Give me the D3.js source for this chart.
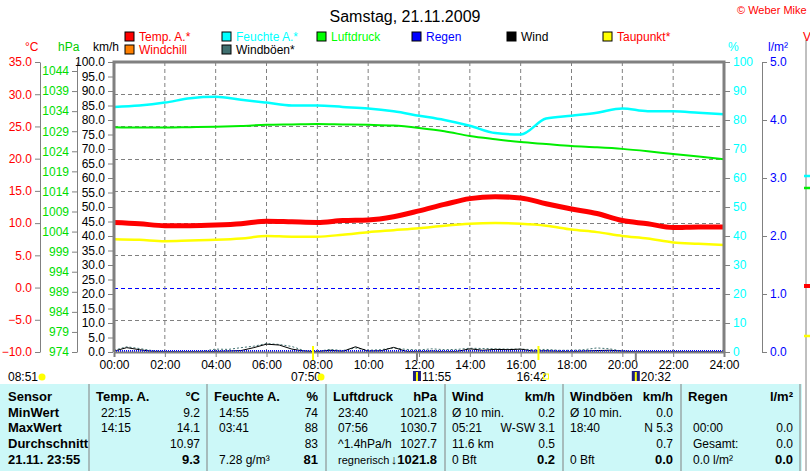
<!DOCTYPE html>
<html>
<head>
<meta charset="utf-8">
<script src="https://d3js.org/d3.v7.min.js"></script>
<style>
  body { margin:0; background:#fff; }
  text { font-family: "Liberation Sans Narrow", "Arial Narrow", "Liberation Sans", Arial, sans-serif; font-size:12px; }
</style>
</head>
<body>
<svg id="chart" width="810" height="471"></svg>
<script>
// hourly values 00:00 .. 24:00
const hours = d3.range(0, 25);
const tempA = [10.1,9.9,9.6,9.6,9.7,9.9,10.3,10.2,10.1,10.4,10.5,11.0,11.9,12.9,13.8,14.1,13.9,13.0,12.2,11.5,10.4,9.9,9.3,9.4,9.4];
const dewPoint = [7.5,7.4,7.2,7.3,7.4,7.6,8.0,7.9,7.9,8.2,8.6,8.9,9.2,9.6,9.9,10.0,9.9,9.6,9.0,8.6,8.0,7.6,7.0,6.8,6.6];
const humidity = [84.5,85,86,87.5,88,87,86,85,85,84.5,84,83,81.5,80,78,75.5,75,80.5,81.5,82.5,84,83,83,82.5,82];
const pressure = [1030.0,1029.9,1029.9,1030.0,1030.1,1030.3,1030.6,1030.7,1030.8,1030.7,1030.6,1030.4,1029.8,1029.0,1027.8,1027.0,1026.3,1025.8,1025.3,1025.0,1024.6,1024.0,1023.3,1022.7,1022.0];
// half-hourly wind / gusts in km/h
const windTimes = d3.range(0, 24.5, 0.5);
const wind = [0.3,1.5,0.8,0.2,0.1,0.1,0.1,0.1,0.2,0.3,0.5,1.5,2.7,2.4,1.0,0.3,0.1,0.6,0.2,1.8,0.3,0.4,1.6,0.2,0.1,0.3,0.1,0.2,1.1,0.6,0.9,0.8,1.0,0.3,0.4,0.2,0.1,0.3,0.5,0.6,0.3,0.1,0.1,0.1,0.1,0.1,0.1,0.1,0.1];
const gusts = [0.6,1.8,1.2,0.5,0.2,0.1,0.1,0.3,1.0,0.9,1.5,2.0,2.9,2.6,1.9,0.4,0.2,0.9,0.5,1.4,0.6,0.8,1.4,0.9,0.7,1.1,0.8,0.9,1.3,1.2,1.1,1.0,1.0,0.8,0.9,0.6,0.6,0.8,1.4,1.1,0.3,0.1,0.1,0.1,0.1,0.1,0.1,0.1,0.1];
const timeTicks = d3.range(0, 25, 2);
const legendRow1 = [["Temp. A.*","#ff0000","#ff0000"],["Feuchte A.*","#00ffff","#00ffff"],["Luftdruck","#00ff00","#00ff00"],["Regen","#0000ff","#0000ff"],["Wind","#000000","#000000"],["Taupunkt*","#ffff00","#ff0000"]];
const legendRow2 = [["Windchill","#ff8000","#ff0000"],["Windböen*","#407070","#000000"]];
const astro = [["08:51",8.85,"moon"],["07:50",7.83,"sun"],["11:55",11.92,"moonI"],["16:42",16.7,"sunset"],["20:32",20.53,"moonI"]];
const tableRows = [
  ["Sensor","Temp. A.","°C","Feuchte A.","%","Luftdruck","hPa","Wind","km/h","Windböen","km/h","Regen","l/m²"],
  ["MinWert","22:15","9.2","14:55","74","23:40","1021.8","Ø 10 min.","0.2","Ø 10 min.","0.0","",""],
  ["MaxWert","14:15","14.1","03:41","88","07:56","1030.7","05:21","W-SW 3.1","18:40","N 5.3","00:00","0.0"],
  ["Durchschnitt","","10.97","","83","^1.4hPa/h","1027.7","11.6 km","0.5","","0.7","Gesamt:","0.0"],
  ["21.11. 23:55","","9.3","7.28 g/m³","81","regnerisch","↓1021.8","0 Bft","0.2","0 Bft","0.0","0.0 l/m²","0.0"]
];

const svg = d3.select("#chart");
const L = 114, R = 724, T = 62, B = 352;
const x = d3.scaleLinear().domain([0,24]).range([L,R]);
const yT = d3.scaleLinear().domain([-10,35]).range([B,T]);
const yP = d3.scaleLinear().domain([974,974+(B-T)/((B-71)/70)]).range([B,T]);
const yK = d3.scaleLinear().domain([0,100]).range([B,T]);
const yH = d3.scaleLinear().domain([0,100]).range([B,T]);
const yR = d3.scaleLinear().domain([0,5]).range([B,T]);

svg.append("text").attr("x",405).attr("y",22).attr("text-anchor","middle").style("font-size","16px").text("Samstag, 21.11.2009");
svg.append("text").attr("x",737).attr("y",14).attr("fill","#ff0000").style("font-size","11px").text("© Weber Mike");

function legend(row, y) {
  const xs = [125,222,317,412,507,603];
  row.forEach((d,i) => {
    svg.append("rect").attr("x",xs[i]).attr("y",y-9).attr("width",9).attr("height",9).attr("fill",d[1]).attr("stroke","#000");
    svg.append("text").attr("x",xs[i]+14).attr("y",y).attr("fill",d[2]).text(d[0]);
  });
}
legend(legendRow1, 41);
legend(legendRow2, 54);

[["°C",25,"#ff0000"],["hPa",58,"#00cc00"],["km/h",93,"#000"],["%",728,"#00ffff"],["l/m²",768,"#0000ff"]].forEach(d =>
  svg.append("text").attr("x",d[1]).attr("y",51).attr("fill",d[2]).text(d[0]));

// grid
const g = svg.append("g");
d3.range(-10,36,5).forEach(v => {
  if (v===35||v===-10) return;
  g.append("line").attr("x1",L).attr("x2",R).attr("y1",Math.round(yT(v))+0.5).attr("y2",Math.round(yT(v))+0.5)
   .attr("stroke", v===0 ? "#0000ff" : "#808080").attr("stroke-dasharray","4,3");
});
timeTicks.slice(1,-1).forEach(h => g.append("line").attr("x1",x(h)).attr("x2",x(h)).attr("y1",T).attr("y2",B)
  .attr("stroke","#808080").attr("stroke-dasharray","4,3"));

// axes
function axis(scale, xpos, ticks, fmt, color, orient) {
  const a = (orient==="left" ? d3.axisLeft(scale) : d3.axisRight(scale)).tickValues(ticks).tickFormat(fmt).tickSize(5).tickSizeOuter(0);
  const ga = svg.append("g").attr("transform",`translate(${xpos},0)`).call(a);
  ga.select(".domain").attr("stroke","#808080");
  ga.selectAll(".tick line").attr("stroke","#808080");
  ga.selectAll("text").attr("fill",color).style("font-size","12px");
  return ga;
}
axis(yT, 40, d3.range(-10,36,5), d3.format(".1f"), "#ff0000", "left");
axis(yP, 77, d3.range(974,1045,5), d3.format("d"), "#00dd00", "left");
axis(yK, L-1, d3.range(0,101,5), d3.format(".1f"), "#000", "left").select(".domain").remove();
axis(yH, R+1, d3.range(0,101,10), d3.format("d"), "#00ffff", "right").select(".domain").remove();
axis(yR, 762, d3.range(0,5.1,1), d3.format(".1f"), "#0000ff", "right");

// series
const line = (ys) => d3.line().x((d,i) => x(hours[i])).y(d => ys(d)).curve(d3.curveMonotoneX);
svg.append("path").datum(pressure).attr("d", line(yP)).attr("fill","none").attr("stroke","#00ee00").attr("stroke-width",2);
svg.append("path").datum(humidity).attr("d", line(yH)).attr("fill","none").attr("stroke","#00ffff").attr("stroke-width",2.5);
svg.append("path").datum(dewPoint).attr("d", line(yT)).attr("fill","none").attr("stroke","#ffff00").attr("stroke-width",2.5);
svg.append("path").datum(tempA).attr("d", line(yT)).attr("fill","none").attr("stroke","#ff0000").attr("stroke-width",5);
const wl = d3.line().x((d,i)=>x(windTimes[i])).y(d=>yK(d));
svg.append("path").datum(gusts).attr("d", wl).attr("fill","none").attr("stroke","#407070").attr("stroke-dasharray","2,2");
svg.append("path").datum(wind).attr("d", wl).attr("fill","none").attr("stroke","#000");
svg.append("line").attr("x1",L).attr("x2",R).attr("y1",B-1).attr("y2",B-1).attr("stroke","#0000ff").attr("stroke-dasharray","1,1").attr("stroke-width",2);

// frame
svg.append("path").attr("d",`M${L},${B}V${T}H${R}V${B}`).attr("fill","none").attr("stroke","#808080").attr("stroke-width",3);
const xa = svg.append("g").attr("transform",`translate(0,${B})`).call(d3.axisBottom(x).tickValues(timeTicks).tickSize(5).tickFormat(h => d3.format("02d")(h)+":00"));
xa.select(".domain").attr("stroke","#808080").attr("stroke-width",2);
xa.selectAll(".tick line").attr("stroke","#808080");
xa.selectAll("text").style("font-size","12px").attr("fill","#000");

// astro marks
astro.forEach((d,i) => {
  const px = i===0 ? 8 : x(d[1]);
  if (d[2]==="sun"||d[2]==="sunset") svg.append("line").attr("x1",x(d[1])).attr("x2",x(d[1])).attr("y1",B-6).attr("y2",B+8).attr("stroke","#ffff00").attr("stroke-width",2);
  if (d[2]==="moonI") svg.append("line").attr("x1",x(d[1])).attr("x2",x(d[1])).attr("y1",B).attr("y2",B+9).attr("stroke","#808080").attr("stroke-width",2);
  const tx = i===0 ? px : (d[2]==="moonI" ? px+5 : px-22);
  svg.append("text").attr("x", tx).attr("y",381).text(d[0]);
  const ix = i===0 ? 42 : (d[2]==="moonI" ? px-2 : px+8);
  if (d[2]==="moonI") {
    svg.append("rect").attr("x",ix-2).attr("y",371).attr("width",8).attr("height",10).attr("fill","#202080");
    svg.append("path").attr("d",`M${ix+2},372V381`).attr("stroke","#ffff00").attr("stroke-width",2);
  } else if (d[2]==="sunset") {
    svg.append("rect").attr("x",ix-3).attr("y",374).attr("width",5).attr("height",5).attr("fill","none").attr("stroke","#ffff00");
  } else {
    svg.append("circle").attr("cx",ix).attr("cy",377).attr("r",3.5).attr("fill","#ffff00");
  }
});

// table
svg.append("rect").attr("x",0).attr("y",384).attr("width",802).attr("height",87).attr("fill","#ccf8f8");
[89,207,326,445,563,681,800].forEach(sx => svg.append("line").attr("x1",sx).attr("x2",sx).attr("y1",384).attr("y2",471).attr("stroke","#808080"));
const colX = [[8,"start"],[96,"start"],[200,"end"],[214,"start"],[318,"end"],[333,"start"],[437,"end"],[452,"start"],[555,"end"],[570,"start"],[673,"end"],[688,"start"],[793,"end"]];
const rowY = [401,417,432,448,464];
tableRows.forEach((row,r) => row.forEach((cell,c) => {
  const bold = r===0 || c===0 || (r===4 && c%2===0);
  let xx = colX[c][0];
  if (r>0 && c>0 && colX[c][1]==="start" && c!==7 && c!==9) xx += 5;
  const t = svg.append("text").attr("x",xx).attr("y",rowY[r]).attr("text-anchor",colX[c][1])
    .style("font-weight", bold ? "bold" : "normal").style("font-size", bold ? "13px" : "12px").text(cell);
  if (r===4 && c===5) t.style("font-size","11px");
}));

// cut-off neighbour chart on the right
svg.append("line").attr("x1",806).attr("x2",806).attr("y1",40).attr("y2",471).attr("stroke","#808080");
svg.append("path").attr("d","M804,176H810").attr("stroke","#00ffff").attr("stroke-width",2.5);
svg.append("path").attr("d","M804,188H810").attr("stroke","#00ee00").attr("stroke-width",2.5);
svg.append("path").attr("d","M804,286H810").attr("stroke","#ff0000").attr("stroke-width",4);
svg.append("path").attr("d","M804,336H810").attr("stroke","#ffff00").attr("stroke-width",2.5);
svg.append("text").attr("x",803).attr("y",41).attr("fill","#ff0000").text("V");
</script>
</body>
</html>
